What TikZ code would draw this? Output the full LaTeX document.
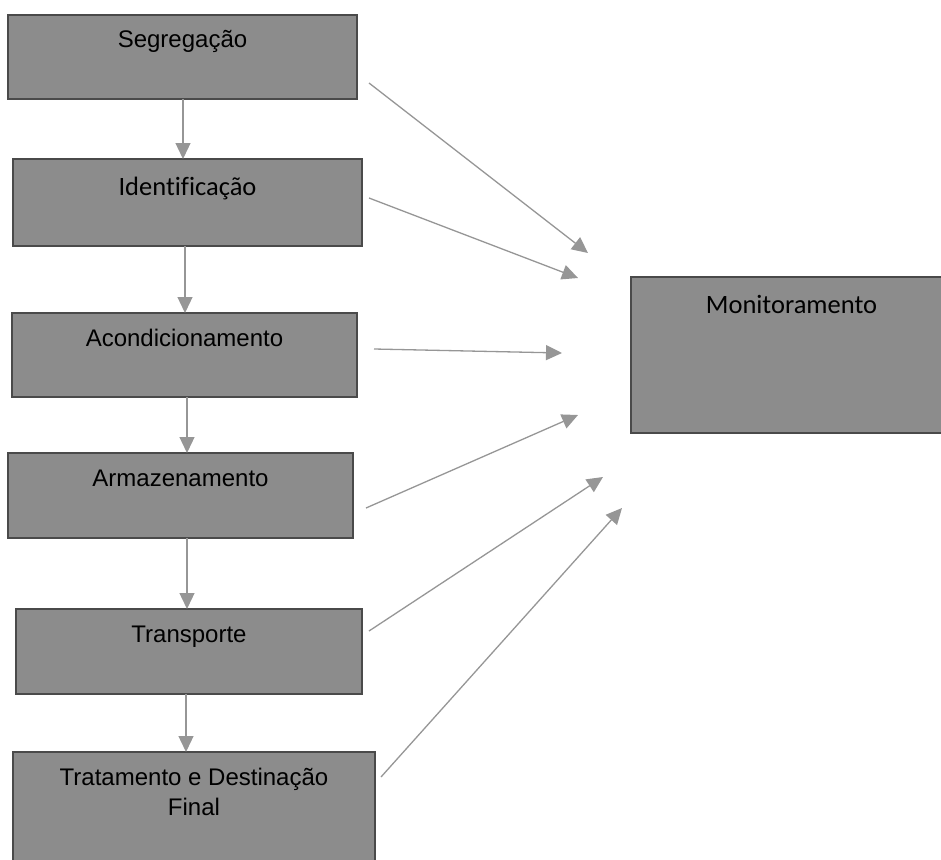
\documentclass[tikz,border=0pt]{standalone}
\usepackage{fontspec}
\setmainfont{Liberation Sans}
\newfontfamily\calibri[Ligatures=CommonOff]{Carlito}
\usetikzlibrary{arrows.meta}
\definecolor{boxfill}{HTML}{8C8C8C}
\definecolor{boxline}{HTML}{4A4A4A}
\definecolor{arrgray}{HTML}{969696}
\tikzset{
  stagebox/.style={draw=boxline, fill=boxfill, line width=2.6pt, rectangle, inner sep=0pt, outer sep=0pt},
  lbl/.style={font=\fontsize{24}{30}\selectfont, text=black, inner sep=0pt, anchor=base},
  clbl/.style={font=\calibri\fontsize{26.5}{32}\selectfont, text=black, inner sep=0pt, anchor=base},
  arr/.style={draw=arrgray, line width=1.3pt, -{Triangle[length=16pt,width=15pt]}},
}
\begin{document}
\begin{tikzpicture}[x=1pt,y=-1pt]
\useasboundingbox (0,0) rectangle (941,859);
\clip (0,0) rectangle (941,859);
% boxes
\node[stagebox, minimum width=349pt, minimum height=84pt] (seg) at (182.5,57) {};
\node[stagebox, minimum width=349pt, minimum height=87pt] (ide) at (187.5,202.5) {};
\node[stagebox, minimum width=345pt, minimum height=84pt] (aco) at (184.5,355) {};
\node[stagebox, minimum width=345pt, minimum height=85pt] (arm) at (180.5,495.5) {};
\node[stagebox, minimum width=346pt, minimum height=85pt] (tra) at (189,651.5) {};
\node[stagebox, minimum width=362pt, minimum height=118pt] (trt) at (194,811) {};
\node[stagebox, minimum width=321pt, minimum height=156pt] (mon) at (791.5,355) {};
% labels
\node[lbl] (segt) at ([yshift=-33pt]seg.north) {Segregação};
\node[clbl] (idet) at ([yshift=-36pt]ide.north) {Identificação};
\node[lbl] (acot) at ([yshift=-33pt]aco.north) {Acondicionamento};
\node[lbl] (armt) at ([yshift=-33pt]arm.north) {Armazenamento};
\node[lbl] (trat) at ([yshift=-33pt]tra.north) {Transporte};
\node[lbl] (trt1) at ([yshift=-33pt]trt.north) {Tratamento e Destinação};
\node[lbl] (trt2) at ([yshift=-63pt]trt.north) {Final};
\node[clbl] (mont) at ([yshift=-36pt]mon.north) {Monitoramento};
% vertical connectors
\coordinate (v1) at (183,0);
\coordinate (v2) at (185,0);
\coordinate (v3) at (187,0);
\coordinate (v4) at (187,0);
\coordinate (v5) at (186,0);
\draw[arr] (v1 |- seg.south) -- (v1 |- ide.north);
\draw[arr] (v2 |- ide.south) -- (v2 |- aco.north);
\draw[arr] (v3 |- aco.south) -- (v3 |- arm.north);
\draw[arr] (v4 |- arm.south) -- (v4 |- tra.north);
\draw[arr] (v5 |- tra.south) -- (v5 |- trt.north);
% diagonal connectors (free ends)
\coordinate (s1) at (369,83);  \coordinate (e1) at (588,253);
\coordinate (s2) at (369,198); \coordinate (e2) at (578,278);
\coordinate (s3) at (374,349); \coordinate (e3) at (562,353);
\coordinate (s4) at (366,508); \coordinate (e4) at (578,415);
\coordinate (s5) at (369,631); \coordinate (e5) at (603,477);
\coordinate (s6) at (381,777); \coordinate (e6) at (622,508);
\draw[arr] (s1) -- (e1);
\draw[arr] (s2) -- (e2);
\draw[arr] (s3) -- (e3);
\draw[arr] (s4) -- (e4);
\draw[arr] (s5) -- (e5);
\draw[arr] (s6) -- (e6);
\end{tikzpicture}
\end{document}
